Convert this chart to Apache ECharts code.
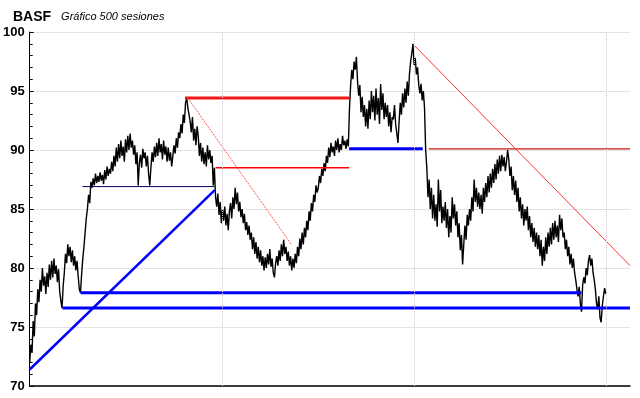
<!DOCTYPE html>
<html>
<head>
<meta charset="utf-8">
<script src="https://cdn.jsdelivr.net/npm/echarts@6/dist/echarts.min.js"></script>
<style>
  html, body { margin: 0; padding: 0; background: #fff; }
  #chart { width: 640px; height: 398px; }
</style>
</head>
<body>
<div id="chart"></div>
<script>
// cierres de las 500 sesiones
const price = [
  72.0, 73.5, 72.8, 75.5, 74.2, 77.0, 76.0, 78.2, 77.1, 79.0,
  78.0, 80.0, 78.5, 79.3, 77.8, 79.6, 78.4, 80.3, 79.0, 80.6,
  79.2, 80.8, 79.5, 80.2, 78.8, 79.9, 78.0, 77.2, 76.6, 78.5,
  79.6, 81.2, 80.4, 82.0, 81.0, 81.8, 80.5, 81.5, 80.2, 81.0,
  79.8, 80.6, 79.3, 78.2, 77.9, 79.5, 80.8, 81.8, 83.0, 84.2,
  85.0, 86.2, 85.5, 87.3, 86.8, 87.6, 87.0, 88.0, 87.2, 87.8,
  87.3, 88.1, 87.4, 87.9, 87.1, 88.3, 87.5, 88.6, 87.8, 88.4,
  88.0, 89.0, 88.2, 89.5, 88.6, 90.2, 89.0, 90.5, 89.3, 90.8,
  89.5, 90.3, 89.0, 90.9, 89.8, 91.2, 90.0, 91.4, 90.2, 90.8,
  89.6, 90.4, 88.8, 89.8, 87.0, 88.9, 89.6, 88.5, 90.1, 89.3,
  89.8, 88.6, 89.5, 88.0, 87.0, 88.5, 89.8, 89.0, 90.3, 89.4,
  90.6, 89.5, 91.0, 89.8, 90.5, 89.2, 90.8, 89.6, 90.3, 89.0,
  90.2, 89.1, 89.8, 88.6, 89.5, 90.4, 89.7, 91.0, 90.2, 91.5,
  91.0, 92.2, 91.4, 93.0, 92.3, 94.0, 94.4, 93.6, 93.0, 92.4,
  91.5, 92.8, 90.8, 91.8, 90.4, 92.0, 91.2, 89.5, 90.6, 89.0,
  90.2, 88.8, 89.8, 88.6, 90.4, 89.2, 90.0, 88.9, 89.5, 87.0,
  88.5, 86.0, 85.2, 86.3, 84.5, 85.6, 83.8, 85.0, 84.0, 85.2,
  83.6, 84.6, 83.2, 84.8, 85.5, 84.2, 86.0, 85.0, 86.8, 85.4,
  86.4, 84.8, 85.6, 84.3, 85.0, 83.8, 84.6, 83.2, 83.9, 82.8,
  83.6, 82.4, 83.0, 81.6, 82.6, 81.2, 82.2, 80.8, 81.8, 80.5,
  81.5, 80.2, 81.0, 79.8, 80.9, 80.0, 81.2, 80.3, 81.6, 80.1,
  80.8, 79.6, 79.2, 80.4, 81.0, 80.2, 81.5, 80.6, 82.0, 81.0,
  82.4, 81.2, 81.8, 80.6, 81.4, 80.2, 81.0, 79.8, 80.8, 80.0,
  81.2, 80.4, 81.8, 81.0, 82.5, 81.6, 83.0, 82.0, 83.4, 82.6,
  84.0, 83.2, 84.8, 84.0, 85.5, 84.8, 86.2, 85.6, 87.0, 86.4,
  86.8, 87.8, 87.2, 88.4, 87.8, 88.9, 88.2, 89.5, 88.9, 90.2,
  89.4, 90.6, 89.8, 90.3, 89.5, 90.8, 90.0, 91.0, 89.8, 90.5,
  90.0, 91.2, 90.4, 90.8, 90.1, 90.9, 90.3, 93.5, 95.5, 96.8,
  96.0, 97.5, 96.8, 97.9, 95.8, 94.6, 95.5, 93.2, 94.5, 92.8,
  93.8, 92.0, 93.5, 91.8, 94.2, 92.6, 95.0, 93.2, 94.6, 92.5,
  95.2, 93.0, 94.4, 92.2, 95.6, 93.4, 94.8, 92.6, 94.0, 92.8,
  93.8, 92.0, 93.2, 91.5, 92.8, 92.6, 93.8, 92.2, 91.4, 90.6,
  92.4, 94.0, 93.0, 94.8, 93.6, 95.2, 94.0, 95.8, 94.6, 96.5,
  97.5, 98.2, 99.0, 97.2, 97.8, 96.4, 97.0, 95.5, 94.8, 95.6,
  94.2, 95.0, 93.6, 90.0, 88.5, 86.0, 87.5, 85.0, 86.8, 84.2,
  86.2, 84.0, 85.4, 83.5, 87.5, 84.8, 86.6, 83.8, 85.2, 84.0,
  85.6, 83.4, 85.0, 82.6, 84.4, 83.0, 86.0, 84.2, 85.4, 83.6,
  84.8, 82.6, 83.8, 81.5, 82.8, 80.3, 82.0, 83.6, 82.4, 84.5,
  83.6, 85.0, 84.0, 86.0, 84.8, 87.5, 85.6, 86.8, 85.2, 86.4,
  85.0, 86.2, 84.6, 86.8, 85.6, 87.2, 86.0, 87.8, 86.4, 88.0,
  86.8, 88.4, 87.2, 88.8, 87.5, 89.2, 88.0, 89.5, 88.2, 89.6,
  88.6, 89.4, 88.2, 89.0, 90.0, 89.2, 87.8, 88.6, 86.6, 87.8,
  86.2, 87.4, 85.6, 86.8, 84.8, 86.0, 84.2, 85.4, 83.6, 85.0,
  84.0, 85.2, 83.2, 84.4, 82.6, 83.8, 82.2, 83.4, 81.8, 83.0,
  81.6, 82.8, 81.0, 82.4, 80.2, 81.8, 80.6, 82.6, 81.2, 83.0,
  81.8, 83.4, 82.0, 83.8, 82.4, 84.0, 82.6, 83.6, 82.2, 84.5,
  83.2, 84.2, 82.6, 83.0, 81.6, 82.4, 81.0, 81.8, 80.3, 81.2,
  80.0, 80.8, 79.6, 79.0, 78.2, 77.6, 78.4, 77.0, 76.3, 78.6,
  79.2, 78.7, 80.0, 79.4, 80.6, 81.1, 80.2, 80.8, 79.6, 79.0,
  78.2, 77.0, 76.5, 77.6, 75.8, 75.4, 76.8, 77.6, 78.3, 77.8
];

// rectas de tendencia [sesion, precio]
const blueRise      = [[0, 71.4], [160.3, 86.6]];
const blueSupport1  = [[28.4, 76.6], [520, 76.6]];
const blueSupport2  = [[44, 77.9], [478, 77.9]];
const darkThin      = [[45.7, 86.9], [160.3, 86.9]];
const redTop        = [[134.5, 94.4], [276.7, 94.4]];
const redDotted     = [[137, 94.4], [226.7, 82.0]];
const redMid        = [[161, 88.5], [276.7, 88.5]];
const blueMid       = [[276.7, 90.1], [340.5, 90.1]];
const redRight      = [[345.7, 90.1], [520, 90.1]];
const redFall       = [[332.8, 98.9], [520, 80.2]];

const vGrid = [166.4, 332.8, 499.1];
const yMin = 70, yMax = 100, yStep = 5;
const xMax = 520;

const chart = echarts.init(document.getElementById('chart'));

function seg(data, color, width, type) {
  return {
    type: 'line', data: data, symbol: 'none', silent: true,
    lineStyle: { color: color, width: width, type: type || 'solid' },
    z: 3
  };
}

const option = {
  animation: false,
  backgroundColor: '#fff',
  title: {
    text: '{a|BASF}  {b|Gráfico 500 sesiones}',
    left: 8, top: 3,
    textStyle: {
      rich: {
        a: { fontFamily: 'Liberation Sans', fontWeight: 'bold', fontSize: 14, color: '#000' },
        b: { fontFamily: 'Liberation Sans', fontStyle: 'italic', fontWeight: 'normal', fontSize: 11, color: '#000' }
      }
    }
  },
  grid: { left: 27, right: 10, top: 32, bottom: 12 },
  xAxis: {
    type: 'value', min: 0, max: xMax,
    axisLine: { show: true, lineStyle: { color: '#000', width: 1.5 } },
    axisTick: { show: false },
    axisLabel: { show: false },
    splitLine: { show: false }
  },
  yAxis: {
    type: 'value', min: yMin, max: yMax, interval: yStep,
    axisLine: { show: true, lineStyle: { color: '#000', width: 1 } },
    axisTick: { show: true, inside: true, length: 4, lineStyle: { color: '#000' } },
    minorTick: { show: true, splitNumber: 5, length: 3, lineStyle: { color: '#000' } },
    axisLabel: {
      margin: 5, color: '#000', fontFamily: 'Liberation Sans',
      fontWeight: 'bold', fontSize: 13
    },
    splitLine: { show: true, lineStyle: { color: '#c8c8c8', type: 'dotted', width: 1 } }
  },
  series: [
    {
      type: 'line',
      data: price.map((v, i) => [i, v]),
      symbol: 'none', silent: true,
      lineStyle: { color: '#000', width: 1.4 },
      z: 2,
      markLine: {
        silent: true, symbol: 'none', label: { show: false },
        lineStyle: { color: '#d4c4d4', type: 'dotted', width: 1 },
        data: vGrid.map(x => ({ xAxis: x }))
      }
    },
    seg(blueRise, '#0000ff', 2.5),
    seg(blueSupport1, '#0000ff', 3),
    seg(blueSupport2, '#0000ff', 3),
    seg(darkThin, '#000060', 1),
    seg(redTop, '#f01818', 3),
    seg(redDotted, '#ff2020', 1, 'dotted'),
    seg(redMid, '#ff0000', 1.5),
    seg(blueMid, '#0000ff', 3),
    seg(redRight, '#c81818', 1.2),
    seg(redFall, '#ff3030', 1)
  ]
};

chart.setOption(option);
</script>
</body>
</html>
